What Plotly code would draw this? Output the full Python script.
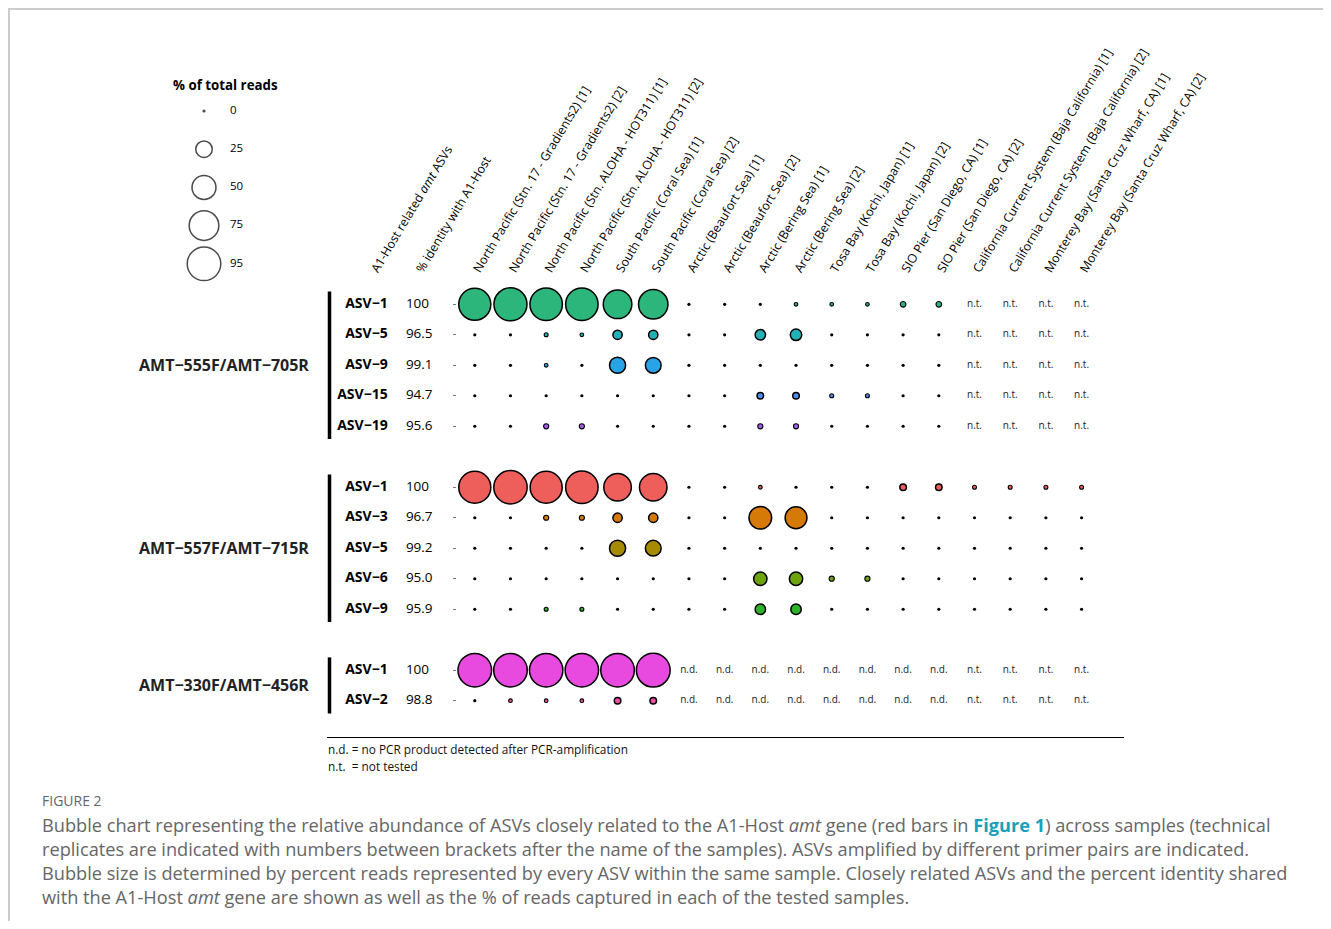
import math
import plotly.graph_objects as go

# ---------------- data ----------------
samples = [
    "North Pacific (Stn. 17 - Gradients2) [1]",
    "North Pacific (Stn. 17 - Gradients2) [2]",
    "North Pacific (Stn. ALOHA - HOT311) [1]",
    "North Pacific (Stn. ALOHA - HOT311) [2]",
    "South Pacific (Coral Sea) [1]",
    "South Pacific (Coral Sea) [2]",
    "Arctic (Beaufort Sea) [1]",
    "Arctic (Beaufort Sea) [2]",
    "Arctic (Bering Sea) [1]",
    "Arctic (Bering Sea) [2]",
    "Tosa Bay (Kochi, Japan) [1]",
    "Tosa Bay (Kochi, Japan) [2]",
    "SIO Pier (San Diego, CA) [1]",
    "SIO Pier (San Diego, CA) [2]",
    "California Current System (Baja California) [1]",
    "California Current System (Baja California) [2]",
    "Monterey Bay (Santa Cruz Wharf, CA) [1]",
    "Monterey Bay (Santa Cruz Wharf, CA) [2]",
]
header_asv = "A1-Host related <i>amt</i> ASVs"
header_identity = "% identity with A1-Host"

NT, ND = "n.t.", "n.d."

primer_pairs = ["AMT\u2212555F/AMT\u2212705R", "AMT\u2212557F/AMT\u2212715R", "AMT\u2212330F/AMT\u2212456R"]

# primer pair 1
g1_asvs = ["ASV\u22121", "ASV\u22125", "ASV\u22129", "ASV\u221215", "ASV\u221219"]
g1_identity = ["100", "96.5", "99.1", "94.7", "95.6"]
g1_colors = ["#2DB67B", "#22B1B6", "#28A3E8", "#4F8EF0", "#A95DF0"]
g1_asv1 = [87, 92, 89, 89, 70, 74, 0, 0, 0, 0.5, 1.5, 1.5, 3.5, 3.5, NT, NT, NT, NT]
g1_asv5 = [0, 0, 2, 1.5, 9, 9, 0, 0, 11, 13, 0, 0, 0, 0, NT, NT, NT, NT]
g1_asv9 = [0, 0, 1.5, 0, 24, 23, 0, 0, 0, 0, 0, 0, 0, 0, NT, NT, NT, NT]
g1_asv15 = [0, 0, 0, 0, 0, 0, 0, 0, 5, 5, 2, 2, 0, 0, NT, NT, NT, NT]
g1_asv19 = [0, 0, 3, 3, 0, 0, 0, 0, 3, 3, 0, 0, 0, 0, NT, NT, NT, NT]

# primer pair 2
g2_asvs = ["ASV\u22121", "ASV\u22123", "ASV\u22125", "ASV\u22126", "ASV\u22129"]
g2_identity = ["100", "96.7", "99.2", "95.0", "95.9"]
g2_colors = ["#EE5F5C", "#D57A06", "#A68B00", "#6FA30B", "#2EB22A"]
g2_asv1 = [87, 94, 87, 89, 65, 65, 0, 0, 1.5, 0, 0, 0, 5, 5, 2, 2, 2, 2]
g2_asv3 = [0, 0, 3, 3, 9, 9, 0, 0, 45, 42, 0, 0, 0, 0, 0, 0, 0, 0]
g2_asv5 = [0, 0, 0, 0, 24, 23, 0, 0, 0, 0, 0, 0, 0, 0, 0, 0, 0, 0]
g2_asv6 = [0, 0, 0, 0, 0, 0, 0, 0, 17, 17, 3, 3, 0, 0, 0, 0, 0, 0]
g2_asv9 = [0, 0, 2, 2, 0, 0, 0, 0, 11, 11, 0, 0, 0, 0, 0, 0, 0, 0]

# primer pair 3
g3_asvs = ["ASV\u22121", "ASV\u22122"]
g3_identity = ["100", "98.8"]
g3_colors = ["#E84ADF", "#EE4FA3"]
g3_asv1 = [95, 95, 94, 94, 95, 96, ND, ND, ND, ND, ND, ND, ND, ND, NT, NT, NT, NT]
g3_asv2 = [0, 1, 1, 1, 5, 5, ND, ND, ND, ND, ND, ND, ND, ND, NT, NT, NT, NT]

legend_values = [0, 25, 50, 75, 95]

footnotes = ["n.d. = no PCR product detected after PCR-amplification", "n.t.  = not tested"]
caption_title = "FIGURE 2"
caption_lines = [
    "Bubble chart representing the relative abundance of ASVs closely related to the A1-Host <i>amt</i> gene "
    "(red bars in <b><span style='color:#1AA0B8'>Figure 1</span></b>) across samples (technical",
    "replicates are indicated with numbers between brackets after the name of the samples). ASVs amplified by "
    "different primer pairs are indicated.",
    "Bubble size is determined by percent reads represented by every ASV within the same sample. Closely related "
    "ASVs and the percent identity shared",
    "with the A1-Host <i>amt</i> gene are shown as well as the % of reads captured in each of the tested samples.",
]

groups = [
    (primer_pairs[0], g1_asvs, g1_identity, g1_colors, [g1_asv1, g1_asv5, g1_asv9, g1_asv15, g1_asv19]),
    (primer_pairs[1], g2_asvs, g2_identity, g2_colors, [g2_asv1, g2_asv3, g2_asv5, g2_asv6, g2_asv9]),
    (primer_pairs[2], g3_asvs, g3_identity, g3_colors, [g3_asv1, g3_asv2]),
]

# ---------------- layout helpers ----------------
W, H = 1315, 913
OX, OY = 8, 8  # page body margin


def px(x):
    return (x - OX) / W


def py(y):
    return 1 - (y - OY) / H


def diam(v):
    return 3.6 * math.sqrt(v)


FONT = "'Open Sans', sans-serif"
GROUP_START = [0, 6, 12]
X_ASV = -1.44
X_ID = -0.93

fig = go.Figure()

row_positions = []
for gi, (pair, asvs, ident, colors, rows) in enumerate(groups):
    ys = [GROUP_START[gi] + i for i in range(len(asvs))]
    row_positions += ys
    for ri, vals in enumerate(rows):
        y = ys[ri]
        bx, bs, bc, bl = [], [], [], []
        tx, tt = [], []
        for ci, v in enumerate(vals):
            xcol = ci + 1
            if isinstance(v, str):
                tx.append(xcol)
                tt.append(v)
            elif v == 0:
                bx.append(xcol); bs.append(3.2); bc.append("black"); bl.append(0)
            else:
                d = max(diam(v), 4.8)
                lw = 1.5 if d > 8 else 1.1
                bx.append(xcol); bs.append(d - lw); bc.append(colors[ri]); bl.append(lw)
        fig.add_trace(go.Scatter(
            x=bx, y=[y] * len(bx), mode="markers",
            marker=dict(size=bs, color=bc, opacity=1, line=dict(color="black", width=bl)),
            hoverinfo="skip", showlegend=False, cliponaxis=False))
        if tx:
            fig.add_trace(go.Scatter(
                x=tx, y=[y] * len(tx), mode="text", text=tt,
                textfont=dict(family=FONT, size=10, color="#222"),
                hoverinfo="skip", showlegend=False, cliponaxis=False))
    # ASV names and identities
    fig.add_trace(go.Scatter(
        x=[X_ASV] * len(asvs), y=ys, mode="text", text=asvs, textposition="middle left",
        textfont=dict(family=FONT, size=14, color="black", weight="bold"),
        hoverinfo="skip", showlegend=False, cliponaxis=False))
    fig.add_trace(go.Scatter(
        x=[X_ID] * len(ident), y=ys, mode="text", text=ident, textposition="middle right",
        textfont=dict(family=FONT, size=13.5, color="black"),
        hoverinfo="skip", showlegend=False, cliponaxis=False))
    # group bar and primer label
    fig.add_shape(type="line", xref="paper", yref="y",
                  x0=px(329.5), x1=px(329.5), y0=ys[0] - 0.42, y1=ys[-1] + 0.42,
                  line=dict(color="black", width=3.5))
    fig.add_annotation(xref="paper", yref="y", x=px(311), y=(ys[0] + ys[-1]) / 2,
                       text="<b>%s</b>" % pair, showarrow=False, xanchor="right", yanchor="middle",
                       font=dict(family=FONT, size=16, color="#222"))

# size legend
leg_y = [i * 38.2 for i in range(len(legend_values))]
leg_s, leg_c, leg_l = [], [], []
for v in legend_values:
    if v == 0:
        leg_s.append(3.2); leg_c.append("black"); leg_l.append(0)
    else:
        leg_s.append(diam(v) - 1.5); leg_c.append("white"); leg_l.append(1.5)
fig.add_trace(go.Scatter(
    x=[0] * len(legend_values), y=leg_y, mode="markers", xaxis="x2", yaxis="y2",
    marker=dict(size=leg_s, color=leg_c, line=dict(color="black", width=leg_l)),
    hoverinfo="skip", showlegend=False, cliponaxis=False))
fig.add_trace(go.Scatter(
    x=[26] * len(legend_values), y=leg_y, mode="text", xaxis="x2", yaxis="y2",
    text=[str(v) for v in legend_values], textposition="middle right",
    textfont=dict(family=FONT, size=11.5, color="black"),
    hoverinfo="skip", showlegend=False, cliponaxis=False))
fig.add_annotation(xref="paper", yref="paper", x=px(225), y=py(85), text="<b>% of total reads</b>",
                   showarrow=False, xanchor="center", yanchor="middle",
                   font=dict(family=FONT, size=13.3, color="black"))

# footnotes
fig.add_shape(type="line", xref="paper", yref="paper", x0=px(327), x1=px(1124), y0=py(737.5), y1=py(737.5),
              line=dict(color="black", width=1))
for i, t in enumerate(footnotes):
    fig.add_annotation(xref="paper", yref="paper", x=px(326), y=py(749 + 17 * i), text=t,
                       showarrow=False, xanchor="left", yanchor="middle",
                       font=dict(family=FONT, size=11.8, color="#111"))

# caption
fig.add_annotation(xref="paper", yref="paper", x=px(40), y=py(800), text=caption_title,
                   showarrow=False, xanchor="left", yanchor="middle",
                   font=dict(family=FONT, size=14, color="#666"))
for i, t in enumerate(caption_lines):
    fig.add_annotation(xref="paper", yref="paper", x=px(40), y=py(825 + 24 * i), text=t,
                       showarrow=False, xanchor="left", yanchor="middle",
                       font=dict(family=FONT, size=18.2, color="#666666"))

# frame
fig.add_shape(type="line", xref="paper", yref="paper", x0=0, x1=1, y0=1 - 1 / H, y1=1 - 1 / H,
              line=dict(color="#CCCCCC", width=2))
fig.add_shape(type="line", xref="paper", yref="paper", x0=1 / W, x1=1 / W, y0=0, y1=1,
              line=dict(color="#CCCCCC", width=2))

tickvals = [-1.86, -0.6] + list(range(1, len(samples) + 1))
ticktext = [header_asv, header_identity] + samples

fig.update_layout(
    width=W, height=H, margin=dict(l=0, r=0, t=0, b=0, autoexpand=False),
    paper_bgcolor="white", plot_bgcolor="white",
    font=dict(family=FONT),
    showlegend=False,
    xaxis=dict(domain=[px(332), px(1103)], range=[-3, 18.6], side="top", anchor="y",
               tickvals=tickvals, ticktext=ticktext, tickangle=-59, automargin=False,
               tickfont=dict(family=FONT, size=12.3, color="black"),
               ticks="", ticklabelstandoff=6,
               showgrid=False, zeroline=False, showline=False, fixedrange=True),
    yaxis=dict(domain=[py(719), py(286)], range=[13.6, -0.6], anchor="free", position=px(456),
               tickvals=row_positions, showticklabels=False, ticks="outside", ticklen=3,
               tickcolor="#777", tickwidth=1, automargin=False,
               showgrid=False, zeroline=False, showline=False, fixedrange=True),
    xaxis2=dict(domain=[px(170), px(290)], range=[-34, 86], anchor="y2", visible=False, automargin=False),
    yaxis2=dict(domain=[py(285), py(95)], range=[174, -16], anchor="x2", visible=False, automargin=False),
)

fig.write_html("out.html")
